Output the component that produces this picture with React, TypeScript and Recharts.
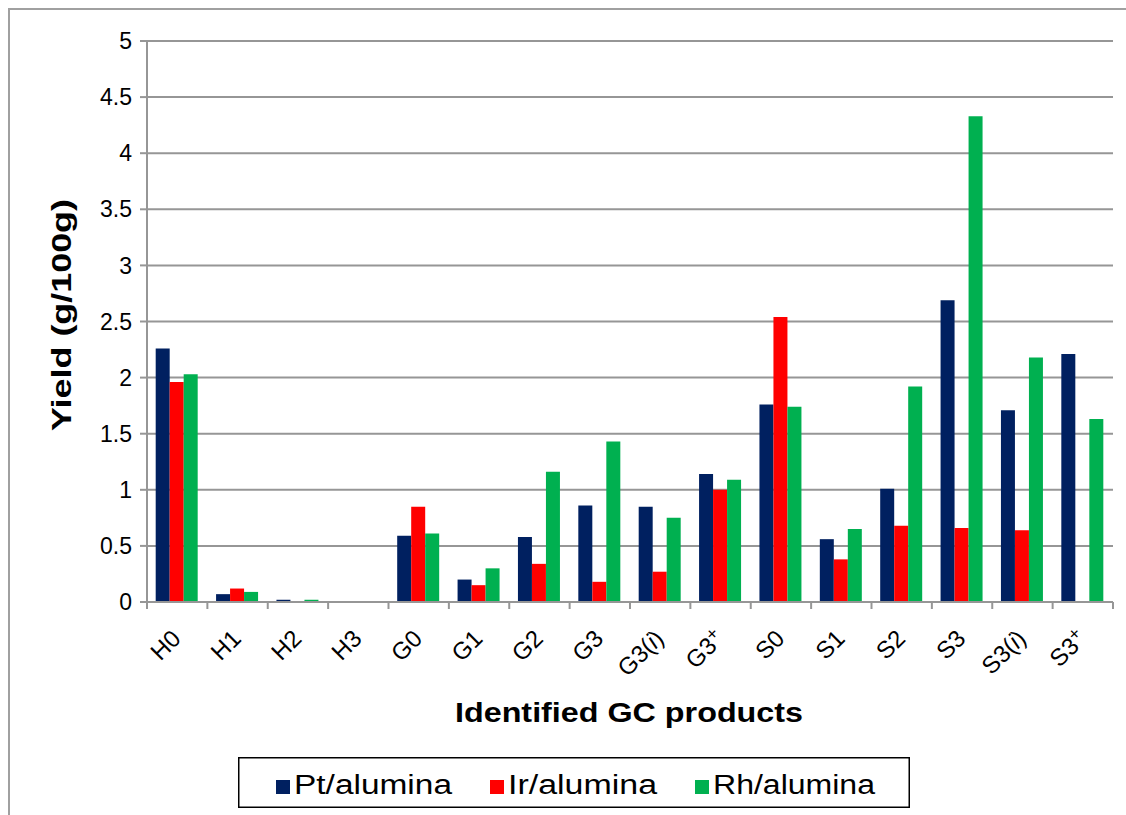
import {
  BarChart,
  Bar,
  XAxis,
  YAxis,
  CartesianGrid,
  Legend
} from 'recharts';

const categories = ['H0', 'H1', 'H2', 'H3', 'G0', 'G1', 'G2', 'G3', 'G3(i)', 'G3+', 'S0', 'S1', 'S2', 'S3', 'S3(i)', 'S3+'];
const ptAlumina = [2.26, 0.07, 0.02, 0, 0.59, 0.2, 0.58, 0.86, 0.85, 1.14, 1.76, 0.56, 1.01, 2.69, 1.71, 2.21];
const irAlumina = [1.96, 0.12, 0, 0, 0.85, 0.15, 0.34, 0.18, 0.27, 1.0, 2.54, 0.38, 0.68, 0.66, 0.64, 0];
const rhAlumina = [2.03, 0.09, 0.02, 0, 0.61, 0.3, 1.16, 1.43, 0.75, 1.09, 1.74, 0.65, 1.92, 4.33, 2.18, 1.63];
const yTicks = [0, 0.5, 1, 1.5, 2, 2.5, 3, 3.5, 4, 4.5, 5];

const seriesNames = ['Pt/alumina', 'Ir/alumina', 'Rh/alumina'];
const seriesColors = ['#002060', '#ff0000', '#00b050'];

const data = categories.map((name, i) => ({
  name,
  pt: ptAlumina[i],
  ir: irAlumina[i],
  rh: rhAlumina[i]
}));

const FONT = '"Liberation Sans", Arial, sans-serif';
const GRID = '#969696';
const PLOT_LEFT = 147;
const PLOT_RIGHT = 1113;
const HALF_BAND = (PLOT_RIGHT - PLOT_LEFT) / categories.length / 2;

function renderTickText(value: string) {
  if (value.endsWith('(i)')) {
    return [
      <tspan key="a">{value.slice(0, -3)}(</tspan>,
      <tspan key="b" fontStyle="italic">i</tspan>,
      <tspan key="c">)</tspan>
    ];
  }
  if (value.endsWith('+')) {
    return [
      <tspan key="a">{value.slice(0, -1)}</tspan>,
      <tspan key="b" fontSize={18} dy={-8}>+</tspan>
    ];
  }
  return value;
}

function CategoryTick(props: any) {
  const { x, y, payload, index } = props;
  const tx = x + 5;
  const ty = y + 38;
  return (
    <g>
      <line x1={x - HALF_BAND} y1={y} x2={x - HALF_BAND} y2={y + 7} stroke={GRID} strokeWidth={2} />
      {index === categories.length - 1 && (
        <line x1={x + HALF_BAND} y1={y} x2={x + HALF_BAND} y2={y + 7} stroke={GRID} strokeWidth={2} />
      )}
      <text
        x={tx}
        y={ty}
        textAnchor="end"
        transform={`rotate(-45, ${tx}, ${ty})`}
        fontSize={24}
        fontFamily={FONT}
        fill="#000"
      >
        {renderTickText(payload.value)}
      </text>
    </g>
  );
}

function YTitle() {
  return (
    <text
      x={71}
      y={315}
      textAnchor="middle"
      transform="rotate(-90, 71, 315)"
      fontSize={28}
      fontWeight="bold"
      fontFamily={FONT}
      textLength={232}
      lengthAdjust="spacingAndGlyphs"
      fill="#000"
    >
      Yield (g/100g)
    </text>
  );
}

function XTitle() {
  return (
    <text
      x={629}
      y={722}
      textAnchor="middle"
      fontSize={28}
      fontWeight="bold"
      fontFamily={FONT}
      textLength={348}
      lengthAdjust="spacingAndGlyphs"
      fill="#000"
    >
      Identified GC products
    </text>
  );
}

const legendTextWidths = [158, 149, 162];

function LegendBox(props: any) {
  const items = [...(props.payload || [])].sort(
    (a: any, b: any) => seriesNames.indexOf(a.value) - seriesNames.indexOf(b.value)
  );
  let cursor = 38;
  return (
    <svg width={672} height={51} style={{ display: 'block' }}>
      <rect x={0.75} y={0.75} width={670.5} height={49.5} fill="#fff" stroke="#000" strokeWidth={1.5} />
      {items.map((entry: any, i: number) => {
        const sx = cursor;
        const w = legendTextWidths[i] || 150;
        cursor = sx + 18 + w + 38;
        return (
          <g key={entry.value}>
            <rect x={sx} y={23} width={14} height={14} fill={entry.color} />
            <text
              x={sx + 18}
              y={37}
              fontSize={27}
              fontFamily={FONT}
              textLength={w}
              lengthAdjust="spacingAndGlyphs"
              fill="#000"
            >
              {entry.value}
            </text>
          </g>
        );
      })}
    </svg>
  );
}

export default function App() {
  return (
    <div style={{ position: 'absolute', left: 0, top: 0, width: 1126, height: 815, background: '#fff' }}>
      <div
        style={{
          position: 'absolute',
          left: 8,
          top: 8,
          width: 1118,
          height: 807,
          borderTop: '2px solid #a0a0a0',
          borderLeft: '2px solid #a0a0a0',
          boxSizing: 'border-box'
        }}
      />
      <BarChart
        width={1126}
        height={815}
        data={data}
        margin={{ top: 41, right: 13, left: 0, bottom: 0 }}
        barCategoryGap="14.4%"
        barGap={0}
      >
        <CartesianGrid vertical={false} stroke={GRID} strokeWidth={2} />
        <XAxis
          dataKey="name"
          height={213}
          interval={0}
          tickSize={0}
          tickMargin={0}
          tickLine={false}
          axisLine={{ stroke: GRID, strokeWidth: 2 }}
          tick={<CategoryTick />}
          label={<XTitle />}
        />
        <YAxis
          width={147}
          domain={[0, 5]}
          ticks={yTicks}
          interval={0}
          tickSize={7}
          tickMargin={8}
          axisLine={{ stroke: GRID, strokeWidth: 2 }}
          tickLine={{ stroke: GRID, strokeWidth: 2 }}
          tick={{ fill: '#000', fontSize: 23, fontFamily: FONT }}
          label={<YTitle />}
        />
        <Legend
          layout="horizontal"
          verticalAlign="middle"
          align="center"
          content={<LegendBox />}
          wrapperStyle={{ left: 238, top: 757, width: 672, height: 51 }}
        />
        <Bar dataKey="pt" name={seriesNames[0]} fill={seriesColors[0]} isAnimationActive={false} />
        <Bar dataKey="ir" name={seriesNames[1]} fill={seriesColors[1]} isAnimationActive={false} />
        <Bar dataKey="rh" name={seriesNames[2]} fill={seriesColors[2]} isAnimationActive={false} />
      </BarChart>
    </div>
  );
}
